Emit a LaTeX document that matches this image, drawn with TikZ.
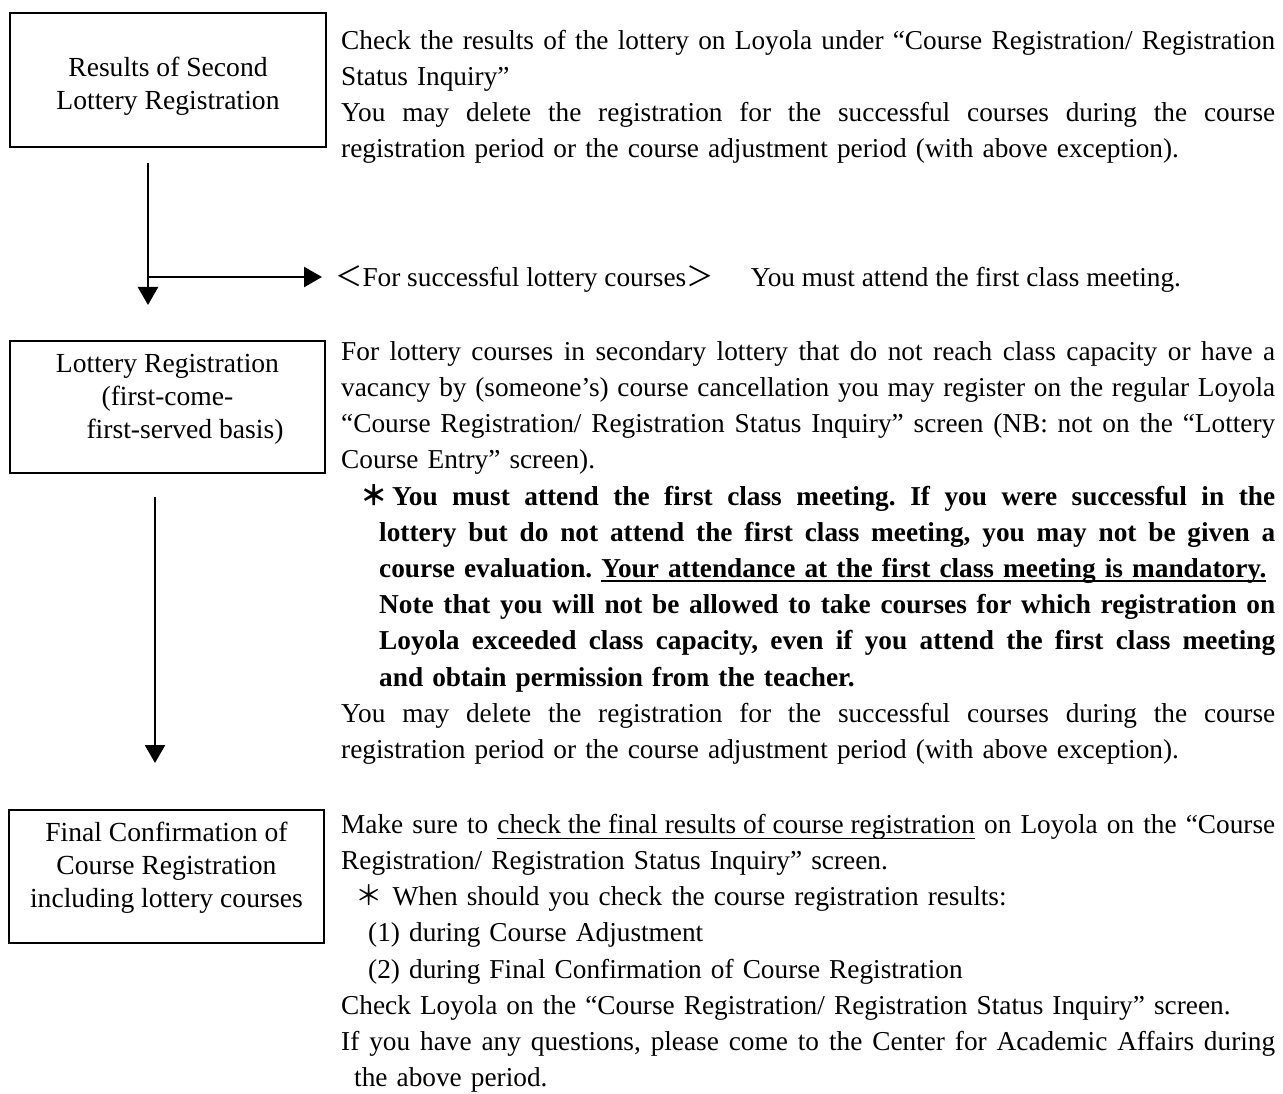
\documentclass[tikz,border=0pt]{standalone}
\usepackage{fontspec}
\setmainfont{Liberation Serif}
\newfontfamily\cjk{Noto Sans CJK JP}
\usetikzlibrary{arrows.meta}
\newcommand\J[2]{\leavevmode\hbox to #1{\spaceskip=0.25em plus 1fil minus 0.12em\relax #2}}
\newcommand\myul[1]{\setbox0\hbox{#1}\rlap{\rule[-4.5pt]{\wd0}{1.8pt}}\box0\relax}
\newcommand\myuln[1]{\setbox0\hbox{#1}\rlap{\rule[-6pt]{\wd0}{1.3pt}}\box0\relax}
\begin{document}
\begin{tikzpicture}[x=1pt,y=-1pt,
  boxnode/.style={draw, line width=2pt, inner sep=0pt},
  boxtext/.style={anchor=north, align=center, inner sep=0pt, font=\fontsize{27.6}{33}\selectfont},
  body/.style={anchor=north west, align=left, text width=934pt, inner sep=0pt, font=\fontsize{27.3}{36.2}\selectfont\frenchspacing},
  flow/.style={line width=2.6pt, -{Triangle[width=20pt,length=18pt]}}]
\useasboundingbox[fill=white] (0,0) rectangle (1283,1094);

% boxes
\node[boxnode, minimum width=316pt, minimum height=134pt] (b1) at (168,80) {};
\node[boxtext] (t1) at (168,52) {\rule{0pt}{24pt}Results of Second\\Lottery Registration};
\node[boxnode, minimum width=315pt, minimum height=132pt] (b2) at (167.5,407) {};
\node[boxtext] (t2) at (167.5,348) {\rule{0pt}{24pt}Lottery Registration\\(first-come-\\\hspace*{35pt}first-served basis)};
\node[boxnode, minimum width=315pt, minimum height=133pt] (b3) at (166.5,876.5) {};
\node[boxtext] (t3) at (166.5,817) {\rule{0pt}{24pt}Final Confirmation of\\Course Registration\\including lottery courses};

% text blocks
\node[body] (p1) at (341,25) {\rule{0pt}{24pt}\J{934pt}{Check the results of the lottery on Loyola under “Course Registration/ Registration}\\
Status Inquiry”\\
\J{934pt}{You may delete the registration for the successful courses during the course}\\
registration period or the course adjustment period (with above exception).};

\node[anchor=north west, inner sep=0pt, font=\fontsize{27.3}{36.2}\selectfont] (forline) at (335,262) {\rule{0pt}{24pt}{\cjk ＜}For successful lottery courses{\cjk ＞　}\hspace{10pt}You must attend the first class meeting.};

\node[body] (p2) at (341,336) {\rule{0pt}{24pt}\J{934pt}{For lottery courses in secondary lottery that do not reach class capacity or have a}\\
\J{934pt}{vacancy by (someone’s) course cancellation you may register on the regular Loyola}\\
\J{934pt}{“Course Registration/ Registration Status Inquiry” screen (NB: not on the “Lottery}\\
Course Entry” screen).\\
\hspace*{38pt}\J{896pt}{\bfseries\hspace*{13pt}\llap{{\cjk\bfseries ＊}\hspace{4pt}}You must attend the first class meeting. If you were successful in the}\\
\hspace*{38pt}\J{896pt}{\bfseries lottery but do not attend the first class meeting, you may not be given a}\\
\hspace*{38pt}{\bfseries course evaluation. \myul{Your attendance at the first class meeting is mandatory.}}\\
\hspace*{38pt}\J{896pt}{\bfseries Note that you will not be allowed to take courses for which registration on}\\
\hspace*{38pt}\J{896pt}{\bfseries Loyola exceeded class capacity, even if you attend the first class meeting}\\
\hspace*{38pt}{\bfseries and obtain permission from the teacher.}\\
\J{934pt}{You may delete the registration for the successful courses during the course}\\
registration period or the course adjustment period (with above exception).};

\node[body] (p3) at (341,809) {\rule{0pt}{24pt}\J{934pt}{Make sure to \myuln{check the final results of course registration} on Loyola on the “Course}\\
Registration/ Registration Status Inquiry” screen.\\
\hspace*{14pt}{\cjk ＊}\hspace{10pt}When should you check the course registration results:\\
\hspace*{27pt}(1) during Course Adjustment\\
\hspace*{27pt}(2) during Final Confirmation of Course Registration\\
Check Loyola on the “Course Registration/ Registration Status Inquiry” screen.\\
\J{934pt}{If you have any questions, please come to the Center for Academic Affairs during}\\
\hspace*{13pt}the above period.};

% connectors
\coordinate (a1s) at (148,163);
\coordinate (a1e) at (148,305);
\coordinate (a1b) at (148,277);
\coordinate (a1t) at (322,277);
\coordinate (a2s) at (155,497);
\coordinate (a2e) at (155,763);
\draw[flow] (a1s) -- (a1e);
\draw[flow] (a1b) -- (a1t);
\draw[flow] (a2s) -- (a2e);
\end{tikzpicture}
\end{document}
